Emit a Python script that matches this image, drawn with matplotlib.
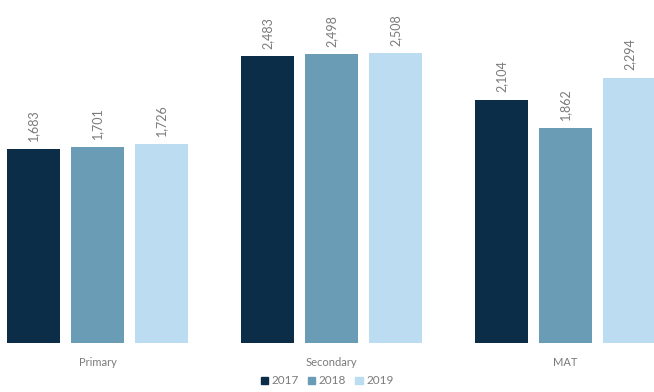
import matplotlib
matplotlib.use("Agg")
import matplotlib.pyplot as plt
from matplotlib.patches import Patch
import numpy as np

categories = ["Primary", "Secondary", "MAT"]
years = ["2017", "2018", "2019"]
values = {
    "2017": [1683, 2483, 2104],
    "2018": [1701, 2498, 1862],
    "2019": [1726, 2508, 2294],
}
colors = ["#0c2d48", "#6a9db5", "#bcdcf2"]
text_color = "#7a7a7a"

W, H = 654, 392
fig = plt.figure(figsize=(W / 100, H / 100), dpi=100)
ax = fig.add_axes([0, (H - 343) / H, 1, 343 / H])

unit = 234.0
bw = 53 / unit
step = 64 / unit
x = np.arange(len(categories))
for i, yr in enumerate(years):
    xs = x + (i - 1) * step
    bars = ax.bar(xs, values[yr], width=bw, color=colors[i], label=yr)
    for b, v in zip(bars, values[yr]):
        ax.annotate(f"{v:,}", (b.get_x() + b.get_width() / 2, b.get_height()),
                    xytext=(0, 5.5), textcoords="offset points", rotation=90,
                    ha="center", va="bottom", fontsize=9, color=text_color,
                    family="Lato", annotation_clip=False)

ax.set_xlim(-97.5 / unit, (654 - 97.5) / unit)
ax.set_ylim(0, 343 / 0.1155)
ax.axis("off")

for xi, c in zip(x, categories):
    fig.text((97.5 + xi * unit) / W, 1 - 362 / H, c, ha="center", va="center",
             fontsize=8, color=text_color, family="Lato")

handles = [Patch(color=colors[i], label=yr) for i, yr in enumerate(years)]
fig.legend(handles=handles, loc="center", bbox_to_anchor=(0.5, 1 - 381 / H),
           ncol=3, frameon=False, handlelength=0.6, handleheight=0.6,
           handletextpad=0.3, columnspacing=0.8, labelcolor=text_color,
           prop={"family": "Lato", "size": 8.5})

fig.savefig("out.png", dpi=100)
